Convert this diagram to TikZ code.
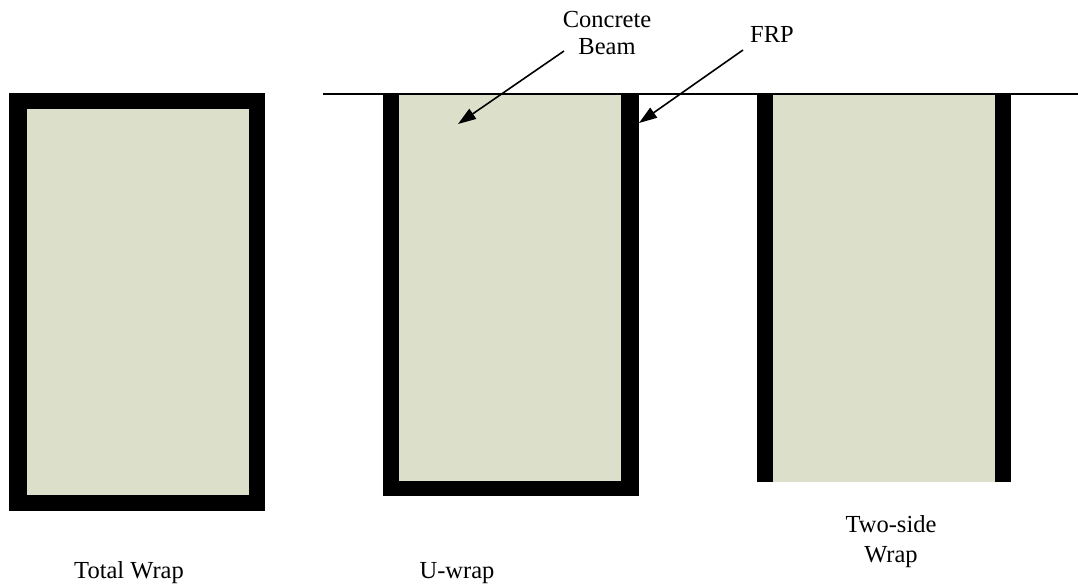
\documentclass[tikz,border=0pt]{standalone}
\usepackage{fontspec}
\setmainfont{Liberation Serif}
\usetikzlibrary{arrows.meta}
\definecolor{concrete}{RGB}{220,224,203}
\tikzset{
  frp/.style={fill=black, draw=none},
  conc/.style={fill=concrete, draw=none},
  lbl/.style={font=\fontsize{24.5}{27}\selectfont, align=center, inner sep=0pt},
  ptr/.style={line width=1.6pt, -{Triangle[length=18pt,width=12pt]}}
}
\begin{document}
\begin{tikzpicture}[x=1pt,y=-1pt]
\useasboundingbox (0,0) rectangle (1078,585);
% Total wrap
\fill[frp] (9,93) rectangle (265,511);
\fill[conc] (27,109) rectangle (249,495);
% U-wrap
\fill[frp] (383,94) rectangle (639,496);
\fill[conc] (399,94) rectangle (621,481);
% Two-side wrap
\fill[frp] (757,94) rectangle (1011,482);
\fill[conc] (773,94) rectangle (995,482);
% slab line
\draw[line width=1.3pt] (323,94) -- (1078,94);
% labels
\node[lbl, anchor=base] (cb) at (607,55) {Concrete\\Beam};
\node[lbl, anchor=base] (frptxt) at (772,43) {FRP};
\node[lbl, anchor=base] (tw) at (129,578) {Total Wrap};
\node[lbl, anchor=base] (uw) at (457,578) {U-wrap};
\node[lbl, anchor=base] (ts) at (891,562) {Two-side\\[3pt]Wrap};
% arrows
\coordinate (cbs) at (564,51);
\coordinate (cbt) at (458,124);
\coordinate (fs) at (743,50);
\coordinate (ft) at (639,123);
\draw[ptr] (cbs) -- (cbt);
\draw[ptr] (fs) -- (ft);
\end{tikzpicture}
\end{document}
